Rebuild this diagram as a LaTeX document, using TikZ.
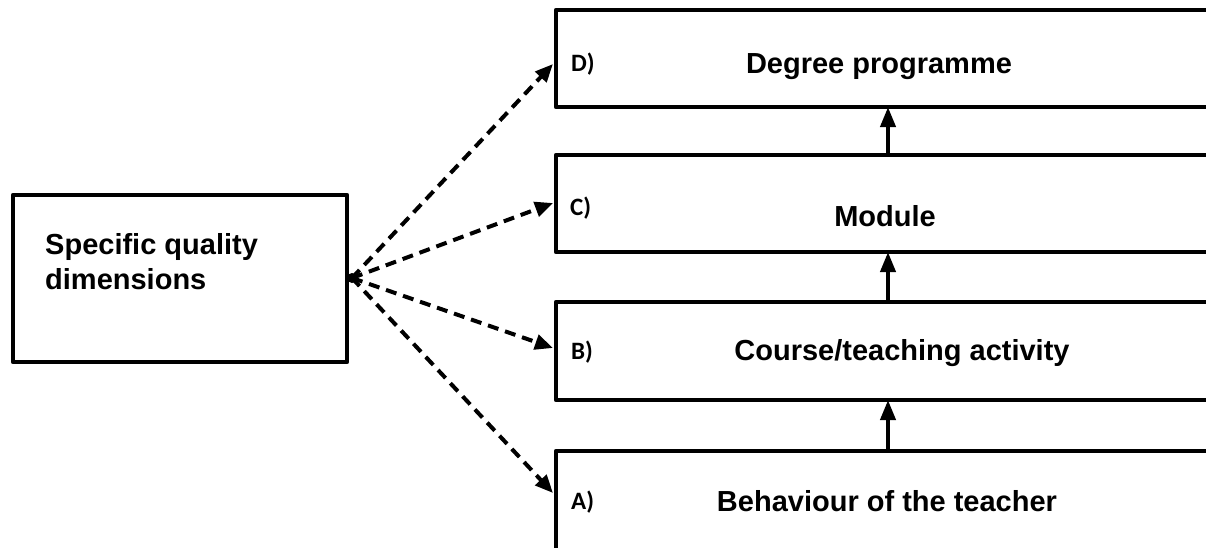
\documentclass[tikz,border=0pt]{standalone}
\usepackage{fontspec}
\setmainfont{Liberation Sans}
\newfontfamily\tagfont{Carlito Bold}
\usetikzlibrary{arrows.meta}

\begin{document}
\begin{tikzpicture}[x=1pt, y=-1pt,
    box/.style={draw, line width=4.5pt, line join=round, outer sep=0pt, inner sep=0pt},
    lvl/.style={font=\fontsize{29}{35}\selectfont\bfseries, inner sep=0pt, anchor=base},
    tag/.style={font=\tagfont\fontsize{25}{28}\selectfont, inner sep=0pt, anchor=base west},
    dasharrow/.style={line width=4pt, dash pattern=on 11pt off 7pt, -{Triangle[length=18pt,width=15pt]}},
    uparrow/.style={line width=4pt, -{Triangle[length=20pt,width=15pt]}}]
    \useasboundingbox (0,0) rectangle (1206,547);
    \clip (0,0) rectangle (1206,547);

    % levels, cut off at the right edge
    \node[box, minimum width=664pt, minimum height=97pt, anchor=north west] (D) at (556,10) {};
    \node[box, minimum width=664pt, minimum height=97pt, anchor=north west] (C) at (556,155) {};
    \node[box, minimum width=664pt, minimum height=98pt, anchor=north west] (B) at (556,302) {};
    \node[box, minimum width=664pt, minimum height=130pt, anchor=north west] (A) at (556,451) {};

    \node[lvl] (Dtxt) at (879,73) {Degree programme};
    \node[lvl] (Ctxt) at (885,226) {Module};
    \node[lvl] (Btxt) at (902,360) {Course/teaching activity};
    \node[lvl] (Atxt) at (887,511) {Behaviour of the teacher};

    \node[tag] (Dtag) at (571,71) {D)};
    \node[tag] (Ctag) at (570,215) {C)};
    \node[tag] (Btag) at (571,359) {B)};
    \node[tag] (Atag) at (571,509) {A)};

    \draw[uparrow] (A.north) -- (B.south);
    \draw[uparrow] (B.north) -- (C.south);
    \draw[uparrow] (C.north) -- (D.south);

    % quality dimensions
    \node[box, minimum width=334pt, minimum height=167pt, anchor=north west] (dims) at (13,195) {};
    \node[font=\fontsize{29}{35}\selectfont\bfseries, align=left, inner sep=0pt, anchor=north west] (dimstxt) at (45,233) {Specific quality\\dimensions};

    \coordinate (src) at (352,278);
    \coordinate (tipD) at (553,64);
    \coordinate (tipC) at (553,203);
    \coordinate (tipB) at (553,348);
    \coordinate (tipA) at (553,493);
    \fill (src) circle (5pt);
    \foreach \t in {D,C,B,A}
        \draw[dasharrow] (src) -- (tip\t);
\end{tikzpicture}
\end{document}
